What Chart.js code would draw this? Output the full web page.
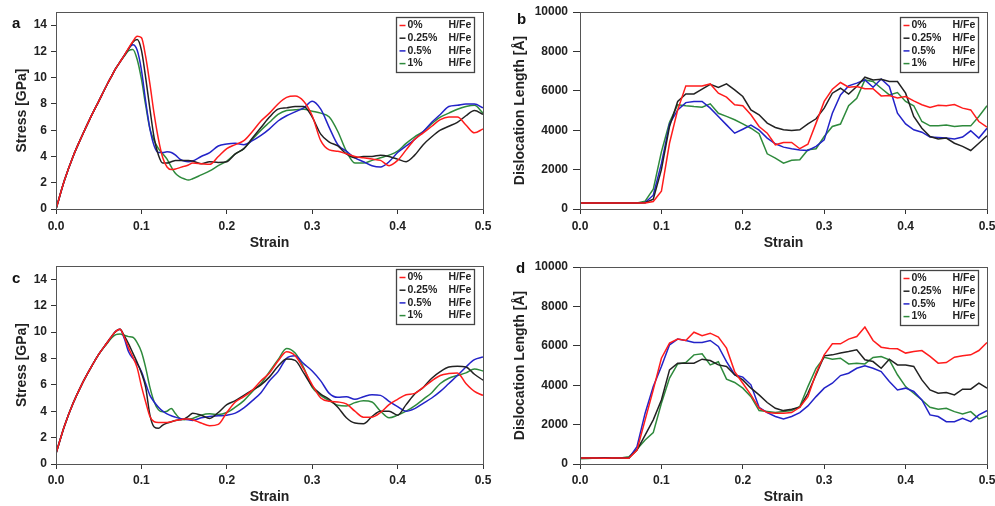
<!DOCTYPE html>
<html>
<head>
<meta charset="utf-8">
<script src="https://cdn.jsdelivr.net/npm/chart.js@4.4.1/dist/chart.umd.min.js"></script>
<style>
  body { margin: 0; background: #fff; width: 995px; height: 506px; overflow: hidden; position: relative; }
  canvas { position: absolute; }
</style>
</head>
<body>
<canvas id="pa" width="497" height="253" style="left:0;top:0"></canvas>
<canvas id="pb" width="498" height="253" style="left:497px;top:0"></canvas>
<canvas id="pc" width="497" height="253" style="left:0;top:253px"></canvas>
<canvas id="pd" width="498" height="253" style="left:497px;top:253px"></canvas>
<script>
// legend / series
const legendLabels = ["0%", "0.25%", "0.5%", "1%"];
const legendUnit = "H/Fe";
const seriesColors = ["#ff1c1c", "#222222", "#2323c8", "#2e8a3c"];

// x values
const stressStrain = [0, 0.01, 0.02, 0.03, 0.04, 0.05, 0.06, 0.065, 0.07, 0.075, 0.08,
  0.085, 0.09, 0.095, 0.1, 0.105, 0.11, 0.115, 0.12, 0.125, 0.13, 0.135, 0.14, 0.145, 0.15, 0.155, 0.16,
  0.17, 0.18, 0.19, 0.2, 0.21, 0.22, 0.23, 0.24, 0.25, 0.26, 0.27, 0.28, 0.29, 0.3,
  0.31, 0.32, 0.33, 0.34, 0.35, 0.36, 0.37, 0.38, 0.39, 0.4, 0.41, 0.42, 0.43, 0.44, 0.45,
  0.46, 0.47, 0.48, 0.49, 0.5];
const disloStrain = [0, 0.01, 0.02, 0.03, 0.04, 0.05, 0.06, 0.07, 0.08, 0.09, 0.1,
  0.11, 0.12, 0.13, 0.14, 0.15, 0.16, 0.17, 0.18, 0.19, 0.2, 0.21, 0.22, 0.23, 0.24, 0.25,
  0.26, 0.27, 0.28, 0.29, 0.3, 0.31, 0.32, 0.33, 0.34, 0.35, 0.36, 0.37, 0.38, 0.39, 0.4,
  0.41, 0.42, 0.43, 0.44, 0.45, 0.46, 0.47, 0.48, 0.49, 0.5];

// tick labels
const strainTicks = [0, 0.1, 0.2, 0.3, 0.4, 0.5];
const stressTicks = [0, 2, 4, 6, 8, 10, 12, 14];
const disloTicks = [0, 2000, 4000, 6000, 8000, 10000];

// panel a: stress [GPa]
const stressA0 = [0, 2.2, 4.0, 5.5, 6.9, 8.2, 9.5, 10.1, 10.7, 11.2, 11.7,
  12.25, 12.75, 13.15, 13.05, 11.6, 9.5, 7.2, 5.3, 3.9, 3.2, 3.0, 3.05, 3.15, 3.25, 3.35, 3.5,
  3.45, 3.4, 4.0, 4.6, 4.9, 5.2, 5.9, 6.7, 7.3, 8.0, 8.5, 8.6, 8.2, 7.1,
  5.2, 4.5, 4.4, 4.2, 4.0, 3.9, 3.8, 3.7, 3.3, 3.7, 4.5, 5.3, 5.8, 6.3, 6.8, 7.0, 7.0, 6.4, 5.8, 6.1];
const stressA025 = [0, 2.2, 4.0, 5.5, 6.9, 8.2, 9.5, 10.1, 10.7, 11.2, 11.7,
  12.2, 12.7, 12.9, 12.1, 10.0, 7.6, 5.4, 4.1, 3.5, 3.5, 3.6, 3.7, 3.7, 3.7, 3.7, 3.65,
  3.45, 3.6, 3.55, 3.6, 4.2, 4.6, 5.4, 6.2, 7.0, 7.6, 7.7, 7.8, 7.8, 7.0,
  5.7, 5.1, 4.8, 4.2, 3.9, 4.0, 4.0, 4.1, 4.0, 3.8, 3.6, 4.1, 4.9, 5.5, 6.0, 6.3, 6.6, 7.1, 7.5, 7.2];
const stressA05 = [0, 2.2, 4.0, 5.5, 6.9, 8.2, 9.5, 10.1, 10.7, 11.2, 11.7,
  12.2, 12.5, 12.1, 10.6, 8.2, 6.1, 4.8, 4.3, 4.3, 4.35, 4.3, 4.1, 3.8, 3.65, 3.6, 3.65,
  4.0, 4.3, 4.8, 4.95, 5.0, 4.9, 5.2, 5.6, 6.1, 6.7, 7.1, 7.4, 7.7, 8.2,
  7.6, 6.2, 4.9, 4.4, 3.9, 3.6, 3.3, 3.2, 3.6, 4.3, 4.8, 5.3, 5.9, 6.6, 7.2, 7.8, 7.9, 8.0, 8.0, 7.7];
const stressA1 = [0, 2.2, 4.0, 5.5, 6.9, 8.2, 9.5, 10.1, 10.7, 11.2, 11.65,
  12.05, 12.15, 11.4, 9.9, 7.9, 6.1, 5.2, 4.6, 4.2, 3.8, 3.2, 2.7, 2.45, 2.3, 2.2, 2.3,
  2.6, 2.9, 3.3, 3.65, 4.2, 4.6, 5.3, 6.0, 6.6, 7.2, 7.5, 7.55, 7.6, 7.45,
  7.3, 7.0, 5.9, 4.4, 3.5, 3.5, 3.7, 3.9, 4.1, 4.4, 5.0, 5.5, 5.9, 6.5, 7.0, 7.3, 7.6, 7.8, 7.9, 7.3];

// panel c: stress [GPa]
const stressC0 = [0.8, 2.9, 4.6, 6.0, 7.2, 8.3, 9.2, 9.65, 10.05, 10.2, 9.6,
  8.8, 8.1, 7.3, 5.9, 4.7, 3.6, 3.2, 3.15, 3.15, 3.15, 3.2, 3.3, 3.35, 3.4, 3.4, 3.35,
  3.1, 2.9, 3.0, 3.9, 4.7, 5.1, 5.6, 6.3, 6.9, 7.8, 8.5, 8.2, 7.2, 6.0,
  5.0, 4.75, 4.7, 4.55, 4.0, 3.55, 3.55, 3.9, 4.5, 4.9, 5.25, 5.35, 5.8, 6.3, 6.7, 6.85, 6.9, 6.1, 5.5, 5.2];
const stressC025 = [0.8, 2.9, 4.6, 6.0, 7.2, 8.3, 9.2, 9.65, 10.05, 10.2, 9.7,
  9.1, 8.4, 7.7, 6.9, 5.8, 3.7, 2.8, 2.7, 2.95, 3.1, 3.2, 3.3, 3.35, 3.4, 3.6, 3.85,
  3.7, 3.45, 3.9, 4.5, 4.8, 5.2, 5.6, 6.0, 6.6, 7.4, 7.95, 7.85, 6.9, 5.9,
  5.3, 4.9, 4.3, 3.5, 3.1, 3.05, 3.6, 4.0, 4.0, 3.7, 4.5, 5.3, 5.8, 6.5, 7.0, 7.35, 7.4, 7.35, 6.8, 6.35];
const stressC05 = [0.8, 2.9, 4.6, 6.0, 7.2, 8.3, 9.2, 9.65, 10.05, 10.2, 9.5,
  8.5, 8.0, 7.6, 7.0, 6.1, 5.2, 4.7, 4.3, 4.0, 3.8, 3.65, 3.55, 3.45, 3.4, 3.35, 3.3,
  3.5, 3.6, 3.65, 3.7, 3.85, 4.25, 4.8, 5.4, 6.3, 7.0, 8.0, 8.2, 7.6, 7.05,
  6.3, 5.35, 5.05, 5.1, 4.9, 5.1, 5.25, 5.2, 4.75, 4.35, 4.0, 4.2, 4.6, 5.0, 5.5, 6.1, 6.7, 7.35, 7.9, 8.1];
const stressC1 = [0.8, 2.9, 4.6, 6.0, 7.2, 8.3, 9.15, 9.55, 9.8, 9.85, 9.75,
  9.65, 9.6, 9.2, 8.5, 7.3, 5.8, 4.7, 4.1, 3.95, 4.0, 4.2, 3.8, 3.45, 3.35, 3.4, 3.45,
  3.7, 3.8, 3.75, 3.9, 4.3, 4.8, 5.5, 6.1, 7.0, 7.9, 8.75, 8.4, 7.3, 5.8,
  5.2, 4.8, 4.45, 4.4, 4.65, 4.8, 4.7, 4.0, 3.5, 3.7, 4.0, 4.4, 4.9, 5.4, 6.1, 6.5, 6.7, 6.9, 7.2, 7.05];

// panel b: dislocation length [A]
const disloB0 = [300, 300, 310, 300, 300, 300, 300, 300, 300, 380, 900,
  3350, 5030, 6250, 6250, 6250, 6350, 5880, 5680, 5290, 5240, 4780, 4190, 3850, 3260, 3380,
  3380, 3060, 3290, 4360, 5460, 6080, 6420, 6180, 6220, 6110, 6110, 5740, 5760, 5640, 5710,
  5490, 5290, 5150, 5270, 5240, 5300, 5120, 5030, 4440, 4160];
const disloB025 = [300, 300, 300, 300, 310, 300, 300, 300, 320, 500, 2000,
  4190, 5460, 5840, 5840, 6080, 6330, 6170, 6350, 6050, 5710, 5030, 4780, 4360, 4140, 4020,
  3990, 4020, 4320, 4580, 5120, 5880, 6130, 5830, 6220, 6690, 6550, 6590, 6470, 6470, 5880,
  4700, 4100, 3680, 3550, 3600, 3340, 3180, 2970, 3340, 3720];
const disloB05 = [300, 300, 300, 300, 300, 300, 300, 300, 330, 700, 2300,
  4320, 5030, 5400, 5460, 5460, 5120, 4700, 4270, 3850, 4050, 4260, 4000, 3600, 3310, 3140,
  3060, 3000, 2970, 3180, 3510, 4860, 5790, 6250, 6390, 6550, 6180, 6600, 6220, 4860, 4320,
  4020, 3900, 3650, 3630, 3600, 3550, 3650, 3970, 3600, 4100];
const disloB1 = [300, 300, 300, 300, 300, 300, 300, 300, 400, 1000, 2900,
  4400, 5290, 5240, 5200, 5170, 5340, 4860, 4700, 4530, 4320, 4100, 3820, 2800, 2580, 2330,
  2470, 2500, 3010, 3060, 3680, 4190, 4310, 5240, 5620, 6550, 6470, 6130, 5790, 5910, 5460,
  5240, 4440, 4220, 4220, 4260, 4190, 4220, 4220, 4700, 5240];

// panel d: dislocation length [A]
const disloD0 = [300, 300, 300, 290, 300, 300, 290, 710, 2240, 3760, 5370,
  6140, 6340, 6270, 6690, 6510, 6640, 6440, 5880, 4690, 4100, 3510, 2830, 2610, 2580, 2580,
  2610, 2880, 3420, 4610, 5540, 6100, 6100, 6340, 6470, 6950, 6270, 5930, 5860, 5850, 5630,
  5710, 5760, 5460, 5120, 5150, 5420, 5490, 5540, 5760, 6170];
const disloD025 = [300, 300, 300, 300, 300, 300, 300, 710, 1470, 2240, 3250,
  4780, 5120, 5120, 5120, 5320, 5250, 5030, 4950, 4530, 4270, 3850, 3510, 3120, 2830, 2710,
  2780, 2880, 3590, 4530, 5490, 5540, 5630, 5710, 5800, 5290, 5200, 4860, 5320, 5030, 5030,
  4950, 4270, 3760, 3590, 3630, 3510, 3800, 3800, 4100, 3850];
const disloD05 = [300, 310, 320, 320, 310, 320, 290, 880, 2580, 3930, 4950,
  6050, 6340, 6270, 6170, 6170, 6270, 5970, 5200, 4530, 4410, 4020, 2880, 2610, 2410, 2290,
  2410, 2610, 2950, 3420, 3850, 4100, 4490, 4610, 4860, 4980, 4860, 4690, 4190, 3760, 3850,
  3680, 3250, 2490, 2410, 2150, 2150, 2320, 2150, 2490, 2710];
const disloD1 = [270, 280, 300, 300, 300, 300, 370, 750, 1220, 1590, 3080,
  4360, 5080, 5150, 5540, 5590, 5030, 5190, 4310, 4140, 3850, 3420, 2710, 2660, 2610, 2660,
  2710, 2920, 3930, 4860, 5420, 5320, 5370, 5080, 5120, 5080, 5410, 5460, 5290, 4530, 3930,
  3590, 3250, 2880, 2780, 2830, 2660, 2540, 2660, 2290, 2440];

const FONT = '"Liberation Sans", Arial, Helvetica, sans-serif';

// box round the plot area
const framePlugin = {
  id: "frame",
  afterDatasetsDraw(chart) {
    const a = chart.chartArea, ctx = chart.ctx;
    ctx.save();
    ctx.strokeStyle = "#555";
    ctx.lineWidth = 1;
    ctx.strokeRect(Math.round(a.left) + 0.5, Math.round(a.top) + 0.5,
      Math.round(a.right - a.left), Math.round(a.bottom - a.top));
    ctx.restore();
  }
};

// legend drawn inside the plot, top right
const insideLegend = {
  id: "insideLegend",
  afterDraw(chart, args, opts) {
    const ctx = chart.ctx, a = chart.chartArea;
    const w = 78, h = 55;
    const x = Math.round(a.right - w - 9) + 0.5, y = Math.round(a.top + opts.top) + 0.5;
    ctx.save();
    ctx.fillStyle = "#fff";
    ctx.fillRect(x, y, w, h);
    ctx.strokeStyle = "#444";
    ctx.lineWidth = 1.3;
    ctx.strokeRect(x, y, w, h);
    ctx.font = "bold 10.5px " + FONT;
    ctx.textBaseline = "middle";
    chart.data.datasets.forEach((ds, i) => {
      const yy = y + 8 + i * 12.7;
      ctx.strokeStyle = ds.borderColor;
      ctx.lineWidth = 1.5;
      ctx.beginPath();
      ctx.moveTo(x + 3, yy);
      ctx.lineTo(x + 9, yy);
      ctx.stroke();
      ctx.fillStyle = "#222";
      ctx.fillText(ds.label, x + 11, yy);
      ctx.fillText(legendUnit, x + 52, yy);
    });
    ctx.restore();
  }
};

const panelLetter = {
  id: "panelLetter",
  afterDraw(chart, args, opts) {
    const ctx = chart.ctx;
    ctx.save();
    ctx.font = "bold 15px " + FONT;
    ctx.fillStyle = "#111";
    ctx.textBaseline = "alphabetic";
    ctx.fillText(opts.text, opts.x, opts.y);
    ctx.restore();
  }
};

function crearPanel(id, strain, series, cfg) {
  return new Chart(document.getElementById(id), {
    type: "line",
    data: {
      datasets: series.map((vals, i) => ({
        label: legendLabels[i],
        data: strain.map((x, k) => ({ x: x, y: vals[k] })),
        borderColor: seriesColors[i],
        borderWidth: 1.5,
        pointRadius: 0,
        fill: false,
        tension: cfg.smooth ? 0.4 : 0,
        cubicInterpolationMode: cfg.smooth ? "monotone" : "default"
      }))
    },
    options: {
      responsive: false,
      animation: false,
      devicePixelRatio: 1,
      layout: { padding: cfg.pad },
      plugins: {
        legend: { display: false },
        tooltip: { enabled: false },
        insideLegend: { top: cfg.legendTop },
        panelLetter: cfg.letter
      },
      scales: {
        x: {
          type: "linear",
          min: 0,
          max: 0.5,
          afterBuildTicks: s => { s.ticks = strainTicks.map(v => ({ value: v })); },
          afterFit: s => { s.height = cfg.xh; s.paddingLeft = 0; s.paddingRight = 0; },
          ticks: {
            callback: v => v.toFixed(1),
            font: { family: FONT, size: 12, weight: "bold" },
            color: "#222",
            padding: cfg.xPad,
            maxRotation: 0
          },
          grid: { drawOnChartArea: false, tickLength: 5, tickColor: "#333" },
          border: { color: "#333" },
          title: {
            display: true,
            text: "Strain",
            font: { family: FONT, size: 14, weight: "bold" },
            color: "#222",
            padding: { top: 0, bottom: cfg.xTitlePad }
          }
        },
        y: {
          min: 0,
          max: cfg.ymax,
          afterBuildTicks: s => { s.ticks = cfg.yTicks.map(v => ({ value: v })); },
          afterFit: s => { s.width = cfg.yw; s.paddingTop = 0; s.paddingBottom = 0; },
          ticks: {
            callback: v => String(v),
            font: { family: FONT, size: 12, weight: "bold" },
            color: "#222",
            padding: cfg.yPad
          },
          grid: { drawOnChartArea: false, tickLength: cfg.yTick, tickColor: "#333" },
          border: { color: "#333" },
          title: {
            display: true,
            text: cfg.yTitle,
            font: { family: FONT, size: 14, weight: "bold" },
            color: "#222",
            padding: { top: cfg.yTitlePad, bottom: 0 }
          }
        }
      }
    },
    plugins: [framePlugin, insideLegend, panelLetter]
  });
}

crearPanel("pa", stressStrain, [stressA0, stressA025, stressA05, stressA1], {
  smooth: true, pad: { left: 0, right: 14, top: 12, bottom: 0 },
  xh: 44, yw: 56, ymax: 15, yTicks: stressTicks, yTick: 5, yPad: 4, xPad: 5,
  xTitlePad: 1.6, yTitlePad: 13.6, yTitle: "Stress [GPa]", legendTop: 5,
  letter: { text: "a", x: 12, y: 28 }
});
crearPanel("pb", disloStrain, [disloB0, disloB025, disloB05, disloB1], {
  smooth: false, pad: { left: 0, right: 8, top: 12, bottom: 0 },
  xh: 44, yw: 83, ymax: 10000, yTicks: disloTicks, yTick: 7, yPad: 5, xPad: 5,
  xTitlePad: 1.6, yTitlePad: 14.6, yTitle: "Dislocation Length [Å]", legendTop: 5,
  letter: { text: "b", x: 20, y: 24 }
});
crearPanel("pc", stressStrain, [stressC0, stressC025, stressC05, stressC1], {
  smooth: true, pad: { left: 0, right: 14, top: 13, bottom: 0 },
  xh: 42, yw: 56, ymax: 15, yTicks: stressTicks, yTick: 5, yPad: 4, xPad: 4,
  xTitlePad: 0.6, yTitlePad: 13.6, yTitle: "Stress [GPa]", legendTop: 2.5,
  letter: { text: "c", x: 12, y: 30 }
});
crearPanel("pd", disloStrain, [disloD0, disloD025, disloD05, disloD1], {
  smooth: false, pad: { left: 0, right: 8, top: 14, bottom: 0 },
  xh: 42, yw: 83, ymax: 10000, yTicks: disloTicks, yTick: 7, yPad: 5, xPad: 4,
  xTitlePad: 0.6, yTitlePad: 14.6, yTitle: "Dislocation Length [Å]", legendTop: 3,
  letter: { text: "d", x: 19, y: 20 }
});
</script>
</body>
</html>
